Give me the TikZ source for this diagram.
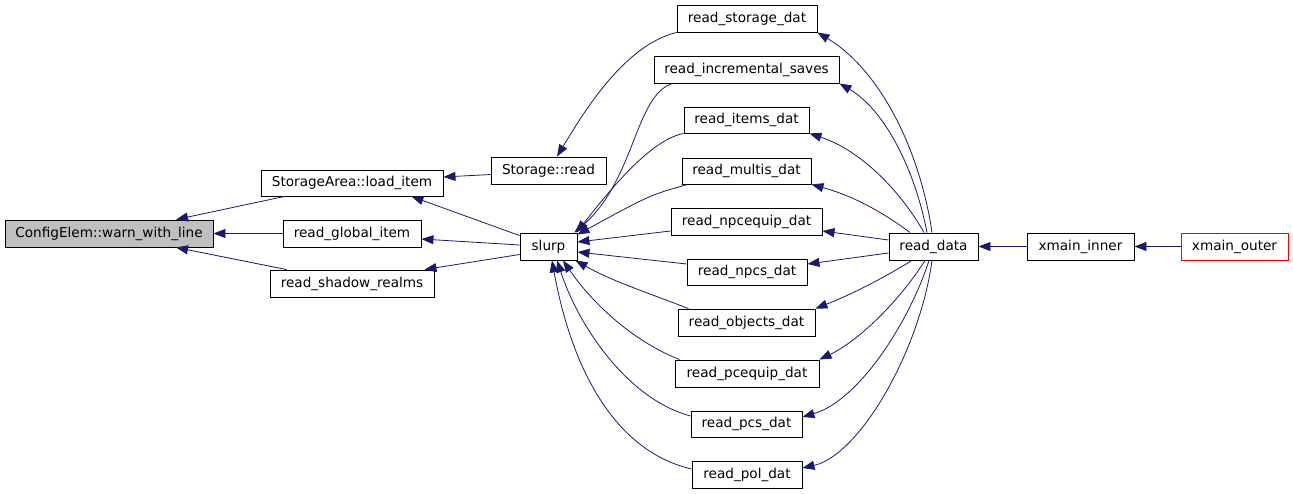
\documentclass[tikz,border=0pt]{standalone}
\usepackage{fontspec}
\setmainfont{DejaVu Sans}
\usetikzlibrary{arrows.meta,calc}
\definecolor{edgeblue}{HTML}{191970}
\definecolor{boxgray}{HTML}{BFBFBF}
\begin{document}
\begin{tikzpicture}[x=1pt,y=-1pt,
  fn/.style={draw=black,line width=0.9pt,inner sep=0pt,font=\fontsize{13.6}{16}\selectfont,anchor=center},
  call/.style={draw=edgeblue,line width=0.8pt,-{Triangle[length=12pt,width=9pt]},color=edgeblue}]
\useasboundingbox (0,0) rectangle (1293,493);
% nodes
\node[fn,fill=boxgray,minimum width=208pt,minimum height=27pt] (cfg) at (109,233.5) {ConfigElem::warn\_with\_line};
\node[fn,minimum width=182pt,minimum height=26pt] (load) at (352,183) {StorageArea::load\_item};
\node[fn,minimum width=138pt,minimum height=27pt] (glob) at (352,233.5) {read\_global\_item};
\node[fn,minimum width=164pt,minimum height=27pt] (shad) at (352,283.5) {read\_shadow\_realms};
\node[fn,minimum width=115pt,minimum height=27pt] (sread) at (548.5,170.5) {Storage::read};
\node[fn,minimum width=57pt,minimum height=27pt] (slurp) at (548.5,246.5) {slurp};
\node[fn,minimum width=140pt,minimum height=27pt] (rsd) at (747,18.5) {read\_storage\_dat};
\node[fn,minimum width=185pt,minimum height=27pt] (ris) at (746.5,69.5) {read\_incremental\_saves};
\node[fn,minimum width=125pt,minimum height=26pt] (rid) at (746.5,120) {read\_items\_dat};
\node[fn,minimum width=129pt,minimum height=26pt] (rmd) at (746.5,171) {read\_multis\_dat};
\node[fn,minimum width=151pt,minimum height=27pt] (rnqd) at (746.5,221.5) {read\_npcequip\_dat};
\node[fn,minimum width=120pt,minimum height=26pt] (rnd) at (747,272) {read\_npcs\_dat};
\node[fn,minimum width=137pt,minimum height=27pt] (rod) at (746.5,322.5) {read\_objects\_dat};
\node[fn,minimum width=144pt,minimum height=27pt] (rpqd) at (747,373.5) {read\_pcequip\_dat};
\node[fn,minimum width=111pt,minimum height=26pt] (rpd) at (746.5,424) {read\_pcs\_dat};
\node[fn,minimum width=110pt,minimum height=27pt] (rpold) at (747,474.5) {read\_pol\_dat};
\node[fn,minimum width=89pt,minimum height=27pt] (rdata) at (933.5,246.5) {read\_data};
\node[fn,minimum width=107pt,minimum height=27pt] (xin) at (1080.5,246.5) {xmain\_inner};
\node[fn,draw=red,minimum width=107pt,minimum height=27pt] (xout) at (1234.5,246.5) {xmain\_outer};
% edges into ConfigElem
\draw[call] ($(load.south west)+(24,0)$) -- ($(cfg.north)+(67,0)$);
\draw[call] (glob.west) -- (cfg.east);
\draw[call] ($(shad.north west)+(17,0)$) -- ($(cfg.south)+(67,0)$);
% Storage::read -> load_item
\draw[call] ($(sread.west)+(0,4)$) -- ($(load.east)+(0,-6)$);
% read_storage_dat -> Storage::read
\draw[call] (rsd.south west) .. controls (625,45) and (585,110) .. ($(sread.north)+(8.5,0)$);
% slurp -> three left nodes
\draw[call] ($(slurp.north west)+(0,3)$) -- ($(load.south east)+(-32,0)$);
\draw[call] ($(slurp.west)+(0,-1.5)$) -- ($(glob.east)+(0,5.5)$);
\draw[call] ($(slurp.west)+(0,8)$) -- ($(shad.north east)+(-10,0)$);
% readers -> slurp
\draw[call] ($(ris.south west)+(19,0)$) .. controls (635,95) and (635,180) .. ($(slurp.north east)+(-3,0)$);
\draw[call] (rid.south west) .. controls (650,140) and (610,190) .. ($(slurp.north east)+(-1,0)$);
\draw[call] ($(rmd.south west)+(6,0)$) .. controls (650,195) .. ($(slurp.north east)+(0,2)$);
\draw[call] ($(rnqd.west)+(0,9.5)$) -- ($(slurp.east)+(0,-4.5)$);
\draw[call] ($(rnd.west)+(0,-8)$) -- ($(slurp.east)+(0,5.5)$);
\draw[call] ($(rod.north west)+(11,0)$) .. controls (640,290) and (610,280) .. ($(slurp.south east)+(-2,0)$);
\draw[call] ($(rpqd.north west)+(5,0)$) .. controls (630,340) and (590,300) .. ($(slurp.south)+(14.5,0)$);
\draw[call] ($(rpd.west)+(0,-8)$) .. controls (630,400) and (580,330) .. ($(slurp.south)+(8.5,0)$);
\draw[call] ($(rpold.west)+(0,-5.5)$) .. controls (610,450) and (570,360) .. ($(slurp.south)+(3.5,0)$);
% read_data -> readers
\draw[call] ($(rdata.north)+(-1.5,0)$) .. controls (920,150) and (880,70) .. (rsd.south east);
\draw[call] ($(rdata.north)+(-6.5,0)$) .. controls (915,170) and (885,110) .. (ris.south east);
\draw[call] ($(rdata.north)+(-9.5,0)$) .. controls (900,190) and (860,150) .. (rid.south east);
\draw[call] ($(rdata.north)+(-23.5,0)$) .. controls (880,210) and (850,195) .. (rmd.south east);
\draw[call] ($(rdata.west)+(0,-6.5)$) -- ($(rnqd.east)+(0,9.5)$);
\draw[call] ($(rdata.west)+(0,6.5)$) -- ($(rnd.east)+(0,-8)$);
\draw[call] ($(rdata.south)+(-21.5,0)$) .. controls (880,280) and (850,295) .. (rod.north east);
\draw[call] ($(rdata.south)+(-8.5,0)$) .. controls (900,300) and (860,340) .. (rpqd.north east);
\draw[call] ($(rdata.south)+(-4.5,0)$) .. controls (910,320) and (860,400) .. ($(rpd.east)+(0,-7)$);
\draw[call] ($(rdata.south)+(-1.5,0)$) .. controls (920,350) and (860,455) .. ($(rpold.east)+(0,-6.5)$);
% mains
\draw[call] (xin.west) -- (rdata.east);
\draw[call] (xout.west) -- (xin.east);
\end{tikzpicture}
\end{document}
